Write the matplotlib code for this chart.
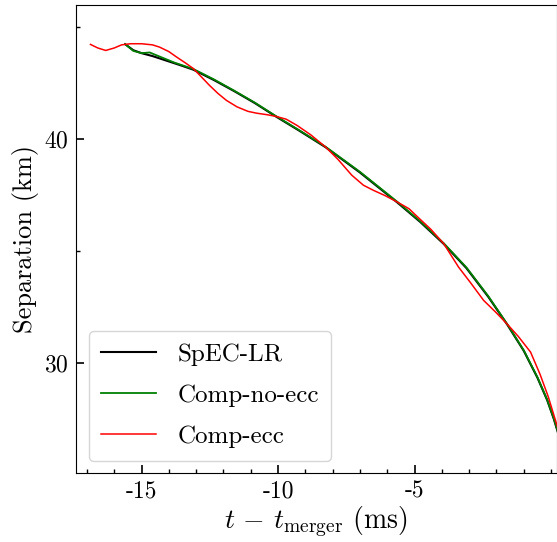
import numpy as np
import matplotlib
matplotlib.use("Agg")
import matplotlib.pyplot as plt
from matplotlib.ticker import MultipleLocator

plt.rcParams["font.family"] = "serif"
plt.rcParams["font.serif"] = ["cmr10"]
plt.rcParams["mathtext.fontset"] = "cm"
plt.rcParams["axes.unicode_minus"] = False
plt.rcParams["axes.formatter.use_mathtext"] = True

# SpEC-LR (reference run)
t_spec = [-15.6, -15.3, -15.0, -14.6, -14.1, -13.6, -13.1, -12.35, -11.6, -10.85,
          -10.09, -9.2, -8.26, -7.0, -5.63, -4.8, -3.93, -3.1, -2.3, -1.6,
          -1.0, -0.5, -0.14, 0.1, 0.3]
sep_spec = [44.25, 43.98, 43.85, 43.72, 43.52, 43.32, 43.11, 42.65, 42.15, 41.62,
            41.03, 40.37, 39.65, 38.52, 37.18, 36.32, 35.33, 34.25, 32.97, 31.72,
            30.56, 29.36, 28.35, 27.52, 26.72]

# Comp-no-ecc
t_noecc = [-15.6, -15.3, -15.0, -14.7, -14.3, -13.8, -13.1, -12.35, -11.6, -10.85,
           -10.09, -9.2, -8.26, -7.0, -5.63, -4.8, -3.93, -3.1, -2.3, -1.6,
           -1.0, -0.5, -0.14, 0.1, 0.3]
sep_noecc = [44.25, 43.95, 43.85, 43.88, 43.68, 43.43, 43.14, 42.68, 42.17, 41.64,
             41.05, 40.39, 39.67, 38.55, 37.21, 36.35, 35.36, 34.28, 33.0, 31.74,
             30.58, 29.38, 28.37, 27.54, 26.74]

# Comp-ecc
t_ecc = [-16.87, -16.6, -16.31, -16.0, -15.73, -15.4, -15.0, -14.6, -14.34, -14.0,
         -13.72, -13.4, -13.1, -12.8, -12.51, -12.2, -11.89, -11.5, -11.1, -10.79,
         -10.4, -10.09, -9.7, -9.3, -8.8, -8.26, -7.8, -7.3, -6.87, -6.5,
         -6.1, -5.63, -5.2, -4.9, -4.4, -3.93, -3.39, -2.95, -2.47, -2.0,
         -1.6, -1.2, -0.75, -0.4, -0.1, 0.3]
sep_ecc = [44.24, 44.08, 43.97, 44.08, 44.22, 44.27, 44.27, 44.22, 44.12, 43.92,
           43.68, 43.42, 43.16, 42.78, 42.41, 42.05, 41.74, 41.45, 41.25, 41.17,
           41.1, 41.03, 40.9, 40.62, 40.2, 39.66, 39.1, 38.4, 37.95, 37.72,
           37.5, 37.2, 36.9, 36.55, 35.98, 35.34, 34.3, 33.6, 32.81, 32.25,
           31.74, 31.2, 30.5, 29.5, 28.5, 26.9]

fig = plt.figure(figsize=(5.57, 5.42), dpi=100)
ax = fig.add_axes([76 / 557, 69 / 542, 480.5 / 557, 468 / 542])

ax.plot(t_spec, sep_spec, color="k", lw=1.5, label="SpEC-LR")
ax.plot(t_noecc, sep_noecc, color="green", lw=1.3, label="Comp-no-ecc")
ax.plot(t_ecc, sep_ecc, color="red", lw=1.1, label="Comp-ecc")

ax.set_xlim(-17.4, 0.2)
ax.set_ylim(25.1, 46)
ax.xaxis.set_major_locator(MultipleLocator(5))
ax.xaxis.set_minor_locator(MultipleLocator(1))
ax.yaxis.set_major_locator(MultipleLocator(10))
ax.yaxis.set_minor_locator(MultipleLocator(5))
ax.set_xticks([-15, -10, -5])
ax.set_xticklabels(["-15", "-10", "-5"])
ax.tick_params(which="both", direction="in", top=False, right=False, labelsize=17)
ax.tick_params(which="major", length=6, width=1.2, pad=5)
ax.tick_params(which="minor", length=3, width=1.0)

ax.set_xlabel(r"$t \,-\, t_{\rm merger}$ (ms)", fontsize=20, labelpad=2)
ax.set_ylabel("Separation (km)", fontsize=19, labelpad=4)

ax.legend(loc="lower left", fontsize=18, labelspacing=0.75, handlelength=2.2,
          handletextpad=0.85, borderpad=0.5)

fig.savefig("out.png", dpi=100)
